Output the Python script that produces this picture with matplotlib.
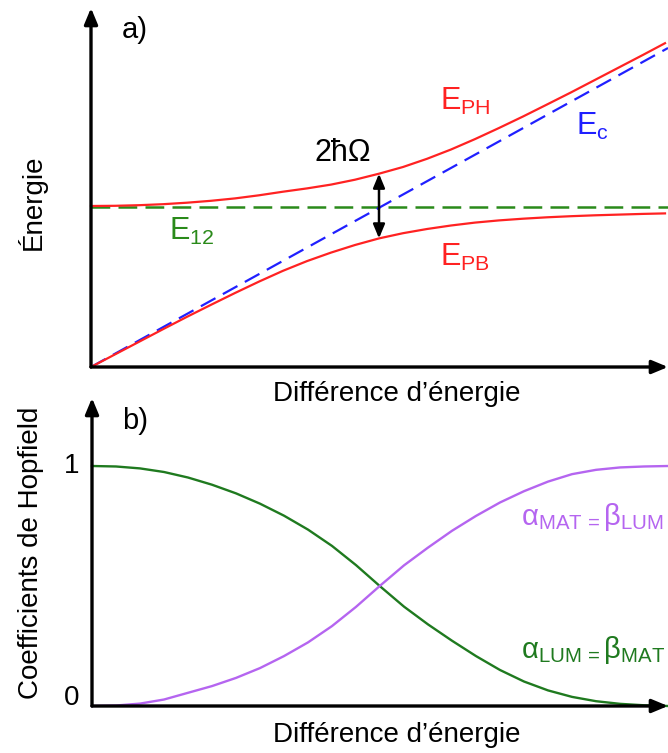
import matplotlib
matplotlib.use("Agg")
import matplotlib.pyplot as plt

plt.rcParams['font.family'] = ['Liberation Sans', 'DejaVu Sans']
plt.rcParams['mathtext.fontset'] = 'custom'
plt.rcParams['mathtext.rm'] = 'Liberation Sans'
plt.rcParams['mathtext.it'] = 'Liberation Sans'

# ---------------- data (arbitrary units) ----------------
# Panel a : energies vs detuning
det_a = [0, 24, 48, 72, 96, 120, 144, 168, 192, 216, 240, 264, 288, 312, 336, 360,
         384, 408, 432, 456, 480, 504, 528, 552, 574]
E_PH = [161, 161.2, 161.8, 162.8, 164.3, 166.2, 168.6, 171.7, 175.3, 178.6, 182.4, 187.3,
        193.3, 200, 208.2, 217.5, 227.9, 239, 250.5, 262.5, 274.6, 287.1, 299.6, 312.1, 323.8]
E_PB = [0, 12.6, 25.2, 37.8, 50.2, 62.2, 74, 85.4, 96.2, 105.9, 114.4, 122, 128.6, 133.8,
        138, 141.5, 144.4, 146.6, 148.3, 149.7, 150.8, 151.7, 152.4, 153.1, 153.6]
E12_x = [0, 577]
E12_y = [160, 160]
Ec_x = [0, 577]
Ec_y = [0, 319]
gap_x = 288
gap_lo, gap_hi = 128.6, 193.3

# Panel b : Hopfield coefficients vs detuning
det_b = [0, 24, 48, 72, 96, 120, 144, 168, 192, 216, 240, 264, 288, 312, 336, 360,
         384, 408, 432, 456, 480, 504, 528, 552, 576]
alpha_LUM = [1.0, 0.998, 0.99, 0.975, 0.952, 0.922, 0.886, 0.843, 0.793, 0.735, 0.667,
             0.587, 0.499, 0.414, 0.340, 0.272, 0.208, 0.150, 0.102, 0.065, 0.038, 0.020,
             0.009, 0.003, 0.0]
alpha_MAT = [0.0, 0.002, 0.010, 0.027, 0.055, 0.083, 0.117, 0.158, 0.208, 0.265, 0.333,
             0.413, 0.501, 0.586, 0.660, 0.730, 0.792, 0.848, 0.895, 0.935, 0.966, 0.984,
             0.994, 0.998, 1.0]
yticks_b = [0, 1]
yticklabels_b = ['0', '1']

# ---------------- figure ----------------
W, H = 668, 753
fig = plt.figure(figsize=(W / 100, H / 100), dpi=100)
fig.patch.set_facecolor('white')

def fx(p):
    return p / W

def fy(p):
    return 1 - p / H

RED = '#ff2222'
BLUE = '#2020ff'
GREEN_D = '#2a8a1a'
GREEN_B = '#1f7a1f'
PURPLE = '#b565f0'
AX_LW = 2.4

def arrow_axes(ax):
    for s in ax.spines.values():
        s.set_visible(False)
    ax.set_xticks([])
    ax.set_yticks([])
    ax.patch.set_alpha(0)
    kw = dict(arrowstyle='-|>,head_length=0.6,head_width=0.25', lw=AX_LW, color='black',
              shrinkA=0, shrinkB=0, mutation_scale=16)
    ax.annotate('', xy=(0, 1), xytext=(0, 0), xycoords='axes fraction',
                textcoords='axes fraction', arrowprops=kw, annotation_clip=False)
    ax.annotate('', xy=(1, 0), xytext=(0, 0), xycoords='axes fraction',
                textcoords='axes fraction', arrowprops=kw, annotation_clip=False)

# ---- panel a ----
ax1 = fig.add_axes([fx(91), fy(367), (668 - 91) / W, (367 - 8) / H])
ax1.set_xlim(0, 577)
ax1.set_ylim(0, 359)
arrow_axes(ax1)
ax1.plot(E12_x, E12_y, color=GREEN_D, lw=1.8, dashes=(7.5, 3.3), clip_on=False)
ax1.plot(Ec_x, Ec_y, color=BLUE, lw=1.6, dashes=(7.5, 3.8), clip_on=False)
ax1.plot(det_a, E_PH, color=RED, lw=1.6, clip_on=False, solid_joinstyle='round')
ax1.plot(det_a, E_PB, color=RED, lw=1.6, clip_on=False, solid_joinstyle='round')
ax1.annotate('', xy=(gap_x, gap_hi), xytext=(gap_x, gap_lo),
             arrowprops=dict(arrowstyle='<|-|>,head_length=0.6,head_width=0.25', lw=1.8,
                             color='black', shrinkA=0, shrinkB=0, mutation_scale=14))

# ---- panel b ----
ax2 = fig.add_axes([fx(92), fy(706), (668 - 92) / W, (706 - 398) / H])
ax2.set_xlim(0, 576)
ax2.set_ylim(0, (706 - 398) / 240)
arrow_axes(ax2)
ax2.plot(det_b, alpha_LUM, color=GREEN_B, lw=1.7, clip_on=False, solid_joinstyle='round')
ax2.plot(det_b, alpha_MAT, color=PURPLE, lw=1.7, clip_on=False, solid_joinstyle='round')
for v, lab in zip(yticks_b, yticklabels_b):
    yy = 706 - 240 * v - (8 if v == 0 else 0)
    fig.text(fx(79), fy(yy), lab, fontsize=20, ha='right', va='center')

# ---------------- texts ----------------
fs = 20
fig.text(fx(122), fy(30), 'a)', fontsize=21, ha='left', va='center')
fig.text(fx(122), fy(421), 'b)', fontsize=21, ha='left', va='center')
fig.text(fx(32), fy(202), 'Énergie', fontsize=fs, rotation=90, ha='center', va='center')
fig.text(fx(31), fy(553), 'Coefficients de Hopfield', fontsize=fs, rotation=90,
         ha='center', va='center')
fig.text(fx(397), fy(401), 'Différence d\u2019énergie', fontsize=fs, ha='center', va='baseline')
fig.text(fx(397), fy(742), 'Différence d\u2019énergie', fontsize=fs, ha='center', va='baseline')
fig.text(fx(343), fy(161), '2ħΩ', fontsize=22, ha='center', va='baseline')

fig.text(fx(440), fy(110), r'$\mathregular{E_{PH}}$', fontsize=22, color=RED, ha='left', va='baseline')
fig.text(fx(440), fy(266), r'$\mathregular{E_{PB}}$', fontsize=22, color=RED, ha='left', va='baseline')
fig.text(fx(576), fy(135), r'$\mathregular{E_{c}}$', fontsize=22, color=BLUE, ha='left', va='baseline')
fig.text(fx(169), fy(240), r'$\mathregular{E_{12}}$', fontsize=22, color=GREEN_D, ha='left', va='baseline')

fig.text(fx(521), fy(525), r'$\mathregular{α_{MAT\,{=}}β_{LUM}}$', fontsize=21, color=PURPLE,
         ha='left', va='baseline')
fig.text(fx(521), fy(658), r'$\mathregular{α_{LUM\,{=}}β_{MAT}}$', fontsize=21, color=GREEN_B,
         ha='left', va='baseline')

fig.savefig('out.png', dpi=100, facecolor='white')
